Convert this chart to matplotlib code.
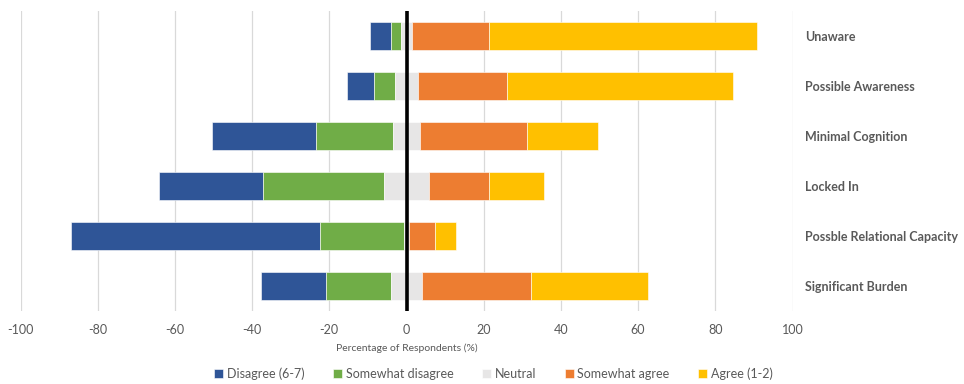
import matplotlib
matplotlib.use("Agg")
import matplotlib.pyplot as plt
import numpy as np

plt.rcParams["font.family"] = ["Lato", "DejaVu Sans"]
plt.rcParams["axes.unicode_minus"] = False

categories = ["Unaware", "Possible Awareness", "Minimal Cognition", "Locked In",
              "Possble Relational Capacity", "Significant Burden"]
disagree = [5.4, 7.1, 27.1, 26.8, 64.5, 16.7]
somewhat_disagree = [2.4, 5.3, 19.9, 31.5, 21.6, 17.0]
neutral = [3.1, 6.2, 7.0, 11.6, 1.5, 7.9]
somewhat_agree = [19.9, 23.0, 27.6, 15.5, 6.7, 28.4]
agree = [69.3, 58.4, 18.5, 14.4, 5.5, 30.1]
series_names = ["Disagree (6-7)", "Somewhat disagree", "Neutral", "Somewhat agree", "Agree (1-2)"]
colors = ["#2F5597", "#70AD47", "#E7E6E6", "#ED7D31", "#FFC000"]
xticks = list(range(-100, 101, 20))

text_color = "#595959"

fig = plt.figure(figsize=(9.64, 3.84), dpi=100)
ax = fig.add_axes([20.5 / 964, 1 - 311 / 384, (792.5 - 20.5) / 964, 300 / 384])

y = np.arange(len(categories))
d = np.array(disagree)
sd = np.array(somewhat_disagree)
n = np.array(neutral)
sa = np.array(somewhat_agree)
a = np.array(agree)

# Segments are laid out so the neutral band is centred on zero
start = -(n / 2 + sd + d)
h = 0.56
lefts = [start, start + d, start + d + sd, n / 2, n / 2 + sa]
widths = [d, sd, n, sa, a]
for left, width, col, name in zip(lefts, widths, colors, series_names):
    ax.barh(y, width, left=left, height=h, color=col, label=name,
            edgecolor="white", linewidth=0.4, zorder=2)

ax.axvline(0, color="black", lw=2.6, zorder=3)

ax.set_xlim(-100, 100)
ax.set_ylim(len(categories) - 0.5, -0.5)
ax.set_xticks(xticks)
ax.set_xticklabels([str(t) for t in xticks], fontsize=9, color=text_color)
ax.grid(axis="x", color="#D9D9D9", lw=0.9, zorder=0)
ax.set_axisbelow(True)
ax.tick_params(axis="x", length=0, pad=9)

ax.yaxis.tick_right()
ax.set_yticks(y)
ax.set_yticklabels(categories, fontsize=9, fontweight="bold", color=text_color, ha="left")
ax.tick_params(axis="y", length=0, pad=9)

for s in ax.spines.values():
    s.set_visible(False)

ax.set_xlabel("Percentage of Respondents (%)", fontsize=7.5, color=text_color, labelpad=6)

fig.legend(loc="lower center", ncol=5, bbox_to_anchor=(0.512, -0.018), frameon=False,
           fontsize=9, handlelength=0.7, handleheight=0.7, handletextpad=0.3,
           columnspacing=2.3, labelcolor=text_color)

fig.savefig("out.png", dpi=100)
